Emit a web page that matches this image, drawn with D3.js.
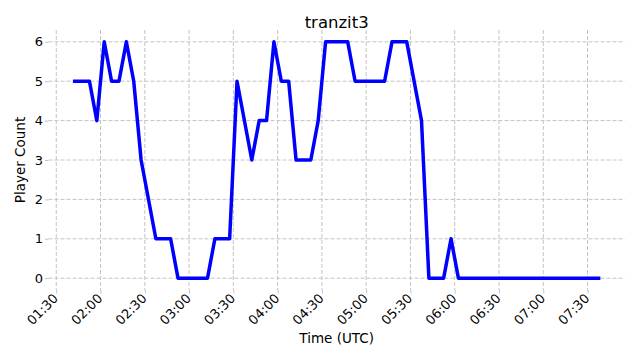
<!DOCTYPE html>
<html>
<head>
<meta charset="utf-8">
<title>tranzit3</title>
<script src="https://d3js.org/d3.v7.min.js"></script>
<style>
  body { margin: 0; background: #fff; }
  text { font-family: "DejaVu Sans", sans-serif; fill: #000; }
</style>
</head>
<body>
<div id="chart"></div>
<script>
// vertices of the player count line (UTC times, 5 minute samples)
var times = ["01:42:30", "01:52:30", "01:57:30", "02:02:30", "02:07:30", "02:12:30",
  "02:17:30", "02:22:30", "02:27:30", "02:37:30", "02:47:30", "02:52:30",
  "03:12:30", "03:17:30", "03:27:30", "03:32:30", "03:42:30", "03:47:30",
  "03:52:30", "03:57:30", "04:02:30", "04:07:30", "04:12:30", "04:22:30",
  "04:27:30", "04:32:30", "04:47:30", "04:52:30", "05:12:30", "05:17:30",
  "05:27:30", "05:37:30", "05:42:30", "05:52:30", "05:57:30", "06:02:30",
  "07:37:30"];
var counts = [5, 5, 4, 6, 5, 5,
  6, 5, 3, 1, 1, 0,
  0, 1, 1, 5, 3, 4,
  4, 6, 5, 5, 3, 3,
  4, 6, 6, 5, 5, 6,
  6, 4, 0, 0, 1, 0,
  0];
var yTicks = [0, 1, 2, 3, 4, 5, 6];

var width = 640, height = 360;
var margin = {left: 48.5, right: 15.2, top: 30, bottom: 70};
var w = width - margin.left - margin.right,
    h = height - margin.top - margin.bottom;

var parse = d3.utcParse("%Y-%m-%d %H:%M:%S");
var data = times.map(function(t, i) {
  return {t: parse("2024-01-01 " + t), v: counts[i]};
});

var t0 = d3.min(data, function(d) { return d.t; }),
    t1 = d3.max(data, function(d) { return d.t; });
var pad = (t1 - t0) * 0.05;
var x = d3.scaleUtc()
  .domain([new Date(+t0 - pad), new Date(+t1 + pad)])
  .range([0, w]);
var y = d3.scaleLinear()
  .domain([-0.3, 6.3])
  .range([h, 0]);

var svg = d3.select("#chart").append("svg")
  .attr("width", width)
  .attr("height", height);
var g = svg.append("g")
  .attr("transform", "translate(" + margin.left + "," + margin.top + ")");

var xTicks = x.ticks(d3.utcMinute.every(30));

// grid
g.append("g").selectAll("line")
  .data(xTicks).enter().append("line")
  .attr("x1", function(d) { return x(d); })
  .attr("x2", function(d) { return x(d); })
  .attr("y1", 0).attr("y2", h)
  .attr("stroke", "#c4c4c4").attr("stroke-width", 1)
  .attr("stroke-dasharray", "4,2");
g.append("g").selectAll("line")
  .data(yTicks).enter().append("line")
  .attr("x1", 0).attr("x2", w)
  .attr("y1", function(d) { return y(d); })
  .attr("y2", function(d) { return y(d); })
  .attr("stroke", "#c4c4c4").attr("stroke-width", 1)
  .attr("stroke-dasharray", "4,2");

// axes
var xAxis = g.append("g")
  .attr("transform", "translate(0," + h + ")")
  .call(d3.axisBottom(x).tickValues(xTicks)
    .tickFormat(d3.utcFormat("%H:%M")).tickSize(3.5).tickPadding(3));
xAxis.select(".domain").remove();
xAxis.selectAll(".tick line").attr("stroke", "#c4c4c4");
xAxis.selectAll("text")
  .style("font-size", "13px")
  .attr("text-anchor", "end")
  .attr("x", 0).attr("y", 0)
  .attr("dy", "0.35em")
  .attr("transform", "translate(-1,6) rotate(-45)");

var yAxis = g.append("g")
  .call(d3.axisLeft(y).tickValues(yTicks).tickFormat(d3.format("d"))
    .tickSize(3.5).tickPadding(2));
yAxis.select(".domain").remove();
yAxis.selectAll(".tick line").attr("stroke", "#c4c4c4");
yAxis.selectAll("text").style("font-size", "13px");

// line
var line = d3.line()
  .x(function(d) { return x(d.t); })
  .y(function(d) { return y(d.v); });
g.append("path")
  .datum(data)
  .attr("d", line)
  .attr("fill", "none")
  .attr("stroke", "#0000ff")
  .attr("stroke-width", 3.5)
  .attr("stroke-linejoin", "round")
  .attr("stroke-linecap", "square");

// labels
svg.append("text")
  .attr("x", margin.left + w / 2).attr("y", 28)
  .attr("text-anchor", "middle")
  .style("font-size", "16.5px")
  .text("tranzit3");
svg.append("text")
  .attr("x", margin.left + w / 2).attr("y", 343)
  .attr("text-anchor", "middle")
  .style("font-size", "13.5px")
  .text("Time (UTC)");
svg.append("text")
  .attr("transform", "translate(25," + (margin.top + h / 2) + ") rotate(-90)")
  .attr("text-anchor", "middle")
  .style("font-size", "13.5px")
  .text("Player Count");
</script>
</body>
</html>
